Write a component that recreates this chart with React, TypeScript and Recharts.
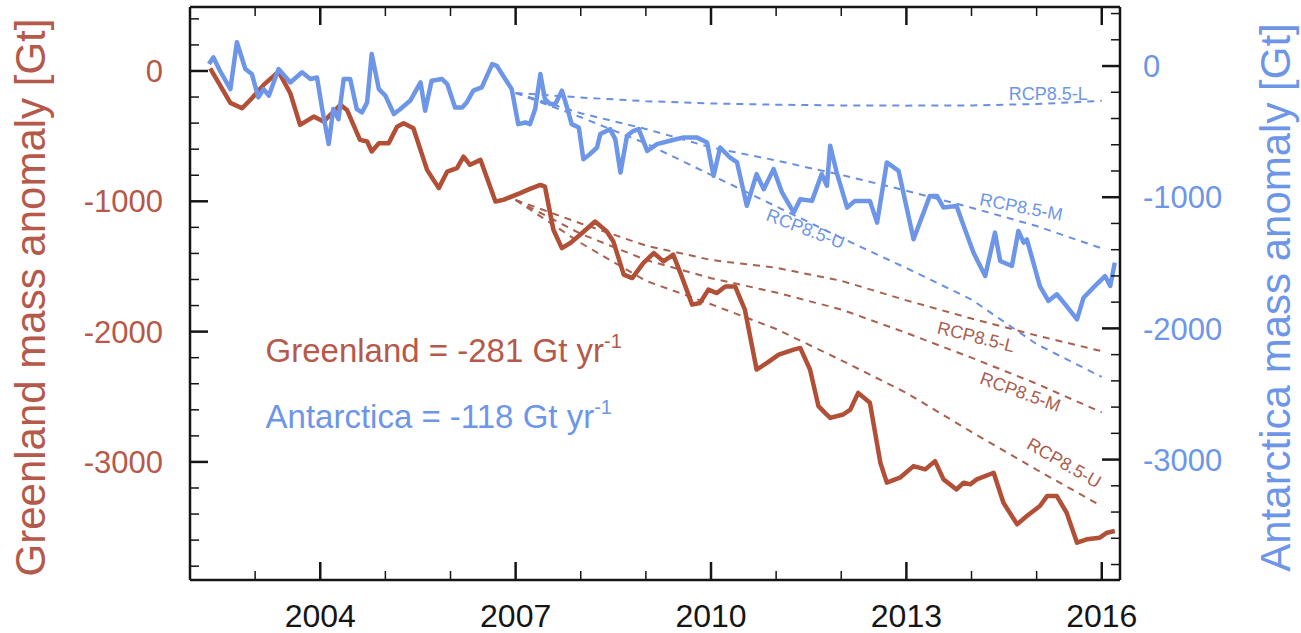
import React from "react";
import { LineChart, Line, XAxis, YAxis, ReferenceDot } from "recharts";

// GRACE mass anomaly (Gt)
const greenlandYears = [
  2002.31, 2002.62, 2002.8, 2002.95, 2003.13, 2003.36, 2003.54, 2003.69, 2003.9, 2004.05,
  2004.31, 2004.41, 2004.61, 2004.72, 2004.79, 2004.9, 2005.05, 2005.18, 2005.28, 2005.43,
  2005.64, 2005.82, 2005.95, 2006.1, 2006.2, 2006.3, 2006.46, 2006.69, 2006.81, 2007.07,
  2007.22, 2007.38, 2007.45, 2007.58, 2007.71, 2007.84, 2007.99, 2008.22, 2008.4, 2008.5,
  2008.66, 2008.79, 2008.96, 2009.12, 2009.27, 2009.42, 2009.55, 2009.71, 2009.83, 2009.96,
  2010.09, 2010.22, 2010.37, 2010.52, 2010.7, 2010.86, 2011.04, 2011.27, 2011.37, 2011.52,
  2011.65, 2011.75, 2011.83, 2012.03, 2012.14, 2012.26, 2012.44, 2012.6, 2012.7, 2012.9,
  2013.11, 2013.29, 2013.44, 2013.57, 2013.77, 2013.88, 2013.98, 2014.08, 2014.34, 2014.49,
  2014.7, 2014.85, 2015.05, 2015.16, 2015.31, 2015.46, 2015.62, 2015.77, 2015.97, 2016.08,
  2016.2,
];
const greenlandMass = [
  20, -245, -286, -209, -107, -5, -171, -414, -350, -388,
  -260, -299, -529, -541, -618, -554, -554, -427, -401, -439,
  -759, -899, -772, -746, -657, -720, -682, -1001, -989, -937,
  -905, -874, -887, -1218, -1359, -1320, -1257, -1155, -1231, -1308,
  -1563, -1589, -1474, -1397, -1461, -1410, -1576, -1793, -1780, -1678,
  -1704, -1653, -1653, -1831, -2291, -2240, -2176, -2138, -2125, -2291,
  -2572, -2623, -2662, -2636, -2598, -2470, -2546, -3006, -3159, -3121,
  -3032, -3057, -2994, -3134, -3211, -3159, -3172, -3134, -3083, -3313,
  -3479, -3415, -3338, -3262, -3262, -3389, -3620, -3594, -3581, -3543,
  -3530,
];

const antarcticaYears = [
  2002.29, 2002.36, 2002.46, 2002.62, 2002.72, 2002.85, 2002.95, 2003.05, 2003.13, 2003.21,
  2003.36, 2003.54, 2003.72, 2003.85, 2003.95, 2004.03, 2004.13, 2004.2, 2004.28, 2004.36,
  2004.46, 2004.56, 2004.64, 2004.72, 2004.79, 2004.9, 2005.0, 2005.13, 2005.23, 2005.38,
  2005.54, 2005.61, 2005.71, 2005.87, 2005.95, 2006.07, 2006.18, 2006.25, 2006.35, 2006.48,
  2006.64, 2006.71, 2006.84, 2006.94, 2007.04, 2007.15, 2007.22, 2007.3, 2007.38, 2007.45,
  2007.53, 2007.61, 2007.71, 2007.79, 2007.86, 2007.97, 2008.04, 2008.14, 2008.25, 2008.3,
  2008.45, 2008.53, 2008.61, 2008.71, 2008.81, 2008.89, 2009.02, 2009.17, 2009.37, 2009.58,
  2009.78, 2009.94, 2010.04, 2010.14, 2010.29, 2010.4, 2010.55, 2010.7, 2010.81, 2010.96,
  2011.09, 2011.27, 2011.37, 2011.55, 2011.7, 2011.78, 2011.83, 2011.93, 2012.09, 2012.21,
  2012.44, 2012.55, 2012.7, 2012.88, 2013.11, 2013.36, 2013.47, 2013.57, 2013.77, 2013.88,
  2014.03, 2014.21, 2014.36, 2014.44, 2014.62, 2014.72, 2014.8, 2014.85, 2015.05, 2015.18,
  2015.31, 2015.46, 2015.62, 2015.72, 2015.87, 2016.05, 2016.13, 2016.2,
];
const antarcticaMass = [
  15, 66, -36, -176, 181, -23, -61, -239, -176, -226,
  -23, -125, -48, -99, -87, -328, -595, -328, -405, -99,
  -99, -328, -354, -277, 92, -176, -226, -366, -328, -265,
  -125, -341, -112, -99, -137, -316, -316, -277, -188, -163,
  15, 2, -99, -176, -443, -430, -443, -328, -61, -252,
  -290, -290, -188, -316, -443, -468, -710, -672, -621, -519,
  -481, -557, -812, -532, -494, -481, -647, -595, -570, -544,
  -544, -583, -837, -621, -697, -735, -1066, -824, -939, -786,
  -964, -1117, -1015, -1028, -824, -913, -608, -812, -1079, -1028,
  -1028, -1194, -735, -799, -1321, -990, -990, -1079, -1066, -1219,
  -1422, -1601, -1270, -1486, -1524, -1257, -1346, -1321, -1677, -1791,
  -1740, -1830, -1931, -1766, -1689, -1601, -1677, -1499,
];

// RCP8.5 projections from 2007
const projYears = [2007, 2008, 2009, 2010, 2011, 2012, 2013, 2014, 2015, 2016];
const greenlandL = [-990, -1170, -1340, -1450, -1510, -1610, -1760, -1900, -2030, -2150];
const greenlandM = [-990, -1250, -1450, -1590, -1700, -1830, -2010, -2200, -2400, -2620];
const greenlandU = [-990, -1320, -1610, -1790, -1980, -2220, -2470, -2770, -3060, -3340];
const antarcticaL = [-205, -240, -268, -285, -295, -300, -302, -300, -290, -265];
const antarcticaM = [-205, -360, -480, -620, -720, -830, -950, -1080, -1220, -1390];
const antarcticaU = [-205, -390, -590, -830, -1070, -1310, -1540, -1780, -2120, -2370];

const yearTicks = [2002, 2003, 2004, 2005, 2006, 2007, 2008, 2009, 2010, 2011, 2012, 2013, 2014, 2015, 2016];
const yearLabels = [2004, 2007, 2010, 2013, 2016];
const massTicks = [
  400, 200, 0, -200, -400, -600, -800, -1000, -1200, -1400, -1600, -1800, -2000,
  -2200, -2400, -2600, -2800, -3000, -3200, -3400, -3600, -3800,
];

const RED = "#b24f37";
const RED_TEXT = "#b5594a";
const RED_DASH = "#a9604f";
const BLUE = "#6e96e8";
const BLUE_DASH = "#6a8fe0";
const INK = "#151515";
const FONT = "'Liberation Sans', Arial, Helvetica, sans-serif";

const greenland = greenlandYears.map((t, i) => ({ t, v: greenlandMass[i] }));
const antarctica = antarcticaYears.map((t, i) => ({ t, v: antarcticaMass[i] }));
const projections = projYears.map((t, i) => ({
  t,
  gL: greenlandL[i],
  gM: greenlandM[i],
  gU: greenlandU[i],
  aL: antarcticaL[i],
  aM: antarcticaM[i],
  aU: antarcticaU[i],
}));

const MAJOR = 18;
const MINOR = 9;

// ticks point inward, labels only on the major ones
const BottomTick = ({ x, y, payload }: any) => {
  const major = yearLabels.includes(payload.value);
  return (
    <g>
      <path d={`M${x},${y}v${-(major ? MAJOR : MINOR)}`} stroke={INK} strokeWidth={major ? 2.5 : 1.5} />
      {major && (
        <text x={x} y={y + 47} textAnchor="middle" fontSize={32} fontFamily={FONT} fill={INK}>
          {payload.value}
        </text>
      )}
    </g>
  );
};

const TopTick = ({ x, y, payload }: any) => {
  const major = yearLabels.includes(payload.value);
  return (
    <g>
      <path d={`M${x},${y}v${major ? MAJOR : MINOR}`} stroke={INK} strokeWidth={major ? 2.5 : 1.5} />
    </g>
  );
};

const LeftTick = ({ x, y, payload }: any) => {
  const major = payload.value % 1000 === 0;
  return (
    <g>
      <path d={`M${x},${y}h${major ? MAJOR : MINOR}`} stroke={INK} strokeWidth={major ? 2.5 : 1.5} />
      {major && (
        <text x={x - 27} y={y} dy="0.36em" textAnchor="end" fontSize={31} fontFamily={FONT} fill={RED_TEXT}>
          {payload.value}
        </text>
      )}
    </g>
  );
};

const RightTick = ({ x, y, payload }: any) => {
  const major = payload.value % 1000 === 0;
  return (
    <g>
      <path d={`M${x},${y}h${-(major ? MAJOR : MINOR)}`} stroke={INK} strokeWidth={major ? 2.5 : 1.5} />
      {major && (
        <text x={x + 23} y={y} dy="0.36em" textAnchor="start" fontSize={31} fontFamily={FONT} fill={BLUE}>
          {payload.value}
        </text>
      )}
    </g>
  );
};

const rotated = (text: string, angle: number, color: string, size = 18) => (props: any) => {
  const { x, y } = props.viewBox;
  return (
    <text x={x} y={y} transform={`rotate(${angle} ${x} ${y})`} textAnchor="middle" dominantBaseline="central"
      fontSize={size} fontFamily={FONT} fill={color}>
      {text}
    </text>
  );
};

const rate = (name: string, value: string, color: string) => (props: any) => {
  const { x, y } = props.viewBox;
  return (
    <text x={x} y={y} fontSize={33} fontFamily={FONT} fill={color}>
      {`${name} = ${value} Gt yr`}
      <tspan dy={-14} fontSize={20}>-1</tspan>
    </text>
  );
};

const axisTitle = (text: string, color: string, dx: number) => (props: any) => {
  const { x, y, height } = props.viewBox;
  const cx = x + dx;
  const cy = y + height / 2 + 4;
  return (
    <text x={cx} y={cy} transform={`rotate(-90 ${cx} ${cy})`} textAnchor="middle" dominantBaseline="central"
      fontSize={42} fontFamily={FONT} fill={color}>
      {text}
    </text>
  );
};

export default function App() {
  return (
    <div style={{ position: "absolute", left: 0, top: 0, background: "#fff" }}>
      <LineChart width={1301} height={633} margin={{ top: 6, right: 61, bottom: 3, left: 70 }}>
        <XAxis xAxisId="x" type="number" dataKey="t" domain={[2002, 2016.28]} allowDataOverflow ticks={yearTicks}
          interval={0} height={50} tickSize={0} tickMargin={0} tickLine={false}
          axisLine={{ stroke: INK, strokeWidth: 2.5 }} tick={<BottomTick />} />
        <XAxis xAxisId="top" orientation="top" type="number" dataKey="t" domain={[2002, 2016.28]} allowDataOverflow
          ticks={yearTicks} interval={0} height={1} tickSize={0} tickMargin={0} tickLine={false}
          axisLine={{ stroke: INK, strokeWidth: 2.5 }} tick={<TopTick />} />
        <YAxis yAxisId="g" type="number" domain={[-3906, 491]} allowDataOverflow ticks={massTicks} interval={0}
          width={120} tickSize={0} tickMargin={0} tickLine={false} axisLine={{ stroke: INK, strokeWidth: 2.5 }}
          tick={<LeftTick />} label={{ content: axisTitle("Greenland mass anomaly [Gt]", RED_TEXT, -40) }} />
        <YAxis yAxisId="a" orientation="right" type="number" domain={[-3918, 450]} allowDataOverflow ticks={massTicks}
          interval={0} width={120} tickSize={0} tickMargin={0} tickLine={false} axisLine={{ stroke: INK, strokeWidth: 2.5 }}
          tick={<RightTick />} label={{ content: axisTitle("Antarctica mass anomaly [Gt]", BLUE, 155) }} />

        {/* projections, on the top axis (same year domain as the bottom one) */}
        {(["aL", "aM", "aU"] as const).map((k) => (
          <Line key={k} data={projections} xAxisId="top" yAxisId="a" dataKey={k} stroke={BLUE_DASH} strokeWidth={2}
            strokeDasharray="7 6" dot={false} isAnimationActive={false} />
        ))}
        {(["gL", "gM", "gU"] as const).map((k) => (
          <Line key={k} data={projections} xAxisId="top" yAxisId="g" dataKey={k} stroke={RED_DASH} strokeWidth={2}
            strokeDasharray="7 6" dot={false} isAnimationActive={false} />
        ))}

        <Line data={greenland} xAxisId="x" yAxisId="g" dataKey="v" stroke={RED} strokeWidth={4.5} strokeLinejoin="round"
          dot={false} isAnimationActive={false} />
        <Line data={antarctica} xAxisId="x" yAxisId="a" dataKey="v" stroke={BLUE} strokeWidth={4.5} strokeLinejoin="round"
          dot={false} isAnimationActive={false} />

        {/* scenario labels */}
        <ReferenceDot xAxisId="x" yAxisId="a" x={2015.18} y={-213} r={0} fill="none" stroke="none"
          label={{ content: rotated("RCP8.5-L", 0, BLUE) }} />
        <ReferenceDot xAxisId="x" yAxisId="a" x={2014.76} y={-1075} r={0} fill="none" stroke="none"
          label={{ content: rotated("RCP8.5-M", 11, BLUE) }} />
        <ReferenceDot xAxisId="x" yAxisId="a" x={2011.45} y={-1242} r={0} fill="none" stroke="none"
          label={{ content: rotated("RCP8.5-U", 21, BLUE) }} />
        <ReferenceDot xAxisId="x" yAxisId="g" x={2014.07} y={-2041} r={0} fill="none" stroke="none"
          label={{ content: rotated("RCP8.5-L", 14, RED_DASH) }} />
        <ReferenceDot xAxisId="x" yAxisId="g" x={2014.75} y={-2464} r={0} fill="none" stroke="none"
          label={{ content: rotated("RCP8.5-M", 20, RED_DASH) }} />
        <ReferenceDot xAxisId="x" yAxisId="g" x={2015.42} y={-3008} r={0} fill="none" stroke="none"
          label={{ content: rotated("RCP8.5-U", 30, RED_DASH) }} />

        {/* trend annotations */}
        <ReferenceDot xAxisId="x" yAxisId="g" x={2003.16} y={-2233} r={0} fill="none" stroke="none"
          label={{ content: rate("Greenland", "-281", RED_TEXT) }} />
        <ReferenceDot xAxisId="x" yAxisId="g" x={2003.16} y={-2740} r={0} fill="none" stroke="none"
          label={{ content: rate("Antarctica", "-118", BLUE) }} />
      </LineChart>
    </div>
  );
}
